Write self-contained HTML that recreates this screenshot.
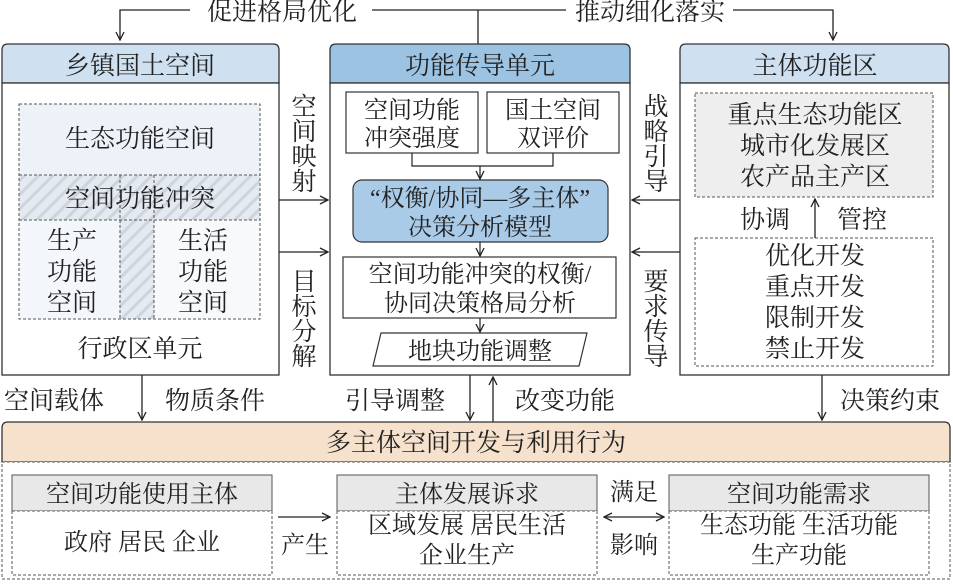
<!DOCTYPE html>
<html><head><meta charset="utf-8"><style>
html,body{margin:0;padding:0;background:#fff}
svg text{font-family:"Liberation Serif","Noto Serif CJK SC","Noto Sans CJK SC",serif;fill:#222}
</style></head><body>
<svg width="953" height="582" viewBox="0 0 953 582" xmlns="http://www.w3.org/2000/svg">
<defs>
<marker id="a" markerWidth="10" markerHeight="10" refX="9" refY="5" orient="auto" markerUnits="userSpaceOnUse"><path d="M1,1 L9,5 L1,9" fill="none" stroke="#222" stroke-width="1.3"/></marker>
<marker id="b" markerWidth="10" markerHeight="10" refX="1" refY="5" orient="auto" markerUnits="userSpaceOnUse"><path d="M9,1 L1,5 L9,9" fill="none" stroke="#222" stroke-width="1.3"/></marker>
<pattern id="h" width="10" height="10" patternUnits="userSpaceOnUse" patternTransform="rotate(45)"><rect width="10" height="10" fill="#e4eaf2"/><rect width="3" height="10" fill="#cfd4db"/></pattern>
</defs>
<g stroke="#222" stroke-width="1.3" fill="none">
<path d="M190,10 H120 V40" marker-end="url(#a)"/>
<path d="M372,10 H566"/><path d="M478,10 V44"/>
<path d="M733,10 H833 V40" marker-end="url(#a)"/>
</g>
<text x="282" y="20" font-size="25" text-anchor="middle">促进格局优化</text>
<text x="650" y="20" font-size="25" text-anchor="middle">推动细化落实</text>

<!-- left box -->
<path d="M2,83 V50 Q2,44 8,44 H273 Q279,44 279,50 V83 Z" fill="#cfe0f0" stroke="#333" stroke-width="1.3"/>
<rect x="2" y="83" width="277" height="292" fill="#fff" stroke="#333" stroke-width="1.3"/>
<text x="140" y="74" font-size="25" text-anchor="middle">乡镇国土空间</text>
<rect x="19" y="104" width="241" height="71" fill="#edf2f9"/>
<rect x="19" y="175" width="241" height="45" fill="url(#h)"/>
<rect x="19" y="220" width="101" height="99" fill="#f3f6fa"/>
<rect x="120" y="220" width="34" height="99" fill="url(#h)"/>
<rect x="154" y="220" width="106" height="99" fill="#f8f9fb"/>
<g stroke="#555" stroke-width="1" stroke-dasharray="3,2" fill="none">
<rect x="19" y="104" width="241" height="215"/>
<path d="M19,175 H260 M19,220 H260 M120,175 V319 M154,175 V319"/>
</g>
<text x="140" y="147" font-size="25" text-anchor="middle">生态功能空间</text>
<text x="140" y="207" font-size="25" text-anchor="middle">空间功能冲突</text>
<g font-size="25" text-anchor="middle"><text x="72" y="249">生产</text><text x="72" y="280">功能</text><text x="72" y="311">空间</text>
<text x="203" y="249">生活</text><text x="203" y="280">功能</text><text x="203" y="311">空间</text></g>
<text x="140" y="357" font-size="25" text-anchor="middle">行政区单元</text>

<g stroke="#222" stroke-width="1.3"><path d="M279,200 H328" marker-end="url(#a)"/><path d="M279,252 H328" marker-end="url(#a)"/>
<path d="M680,200 H632" marker-end="url(#a)"/><path d="M680,252 H632" marker-end="url(#a)"/></g>
<g font-size="25" text-anchor="middle"><text x="304" y="115">空</text><text x="304" y="140">间</text><text x="304" y="165">映</text><text x="304" y="190">射</text>
<text x="304" y="290">目</text><text x="304" y="315">标</text><text x="304" y="340">分</text><text x="304" y="365">解</text>
<text x="656" y="115">战</text><text x="656" y="140">略</text><text x="656" y="165">引</text><text x="656" y="190">导</text>
<text x="656" y="290">要</text><text x="656" y="315">求</text><text x="656" y="340">传</text><text x="656" y="365">导</text></g>

<!-- center box -->
<path d="M330,83 V50 Q330,44 336,44 H624 Q630,44 630,50 V83 Z" fill="#9dc3e2" stroke="#333" stroke-width="1.3"/>
<rect x="330" y="83" width="300" height="292" fill="#fff" stroke="#333" stroke-width="1.3"/>
<text x="480" y="74" font-size="25" text-anchor="middle">功能传导单元</text>
<g stroke="#333" stroke-width="1.2" fill="#fff">
<rect x="346" y="92" width="132" height="61"/><rect x="487" y="92" width="132" height="61"/>
<rect x="353" y="180" width="255" height="62" rx="9" fill="#a9cbe8"/>
<rect x="343" y="257" width="273" height="61"/>
<path d="M381,333 H587 L579,366 H373 Z"/></g>
<g stroke="#222" stroke-width="1.2" fill="none">
<path d="M412,153 V166 H553 V153"/><path d="M480,166 V179" marker-end="url(#a)"/>
<path d="M480,242 V256" marker-end="url(#a)"/><path d="M480,318 V332" marker-end="url(#a)"/></g>
<g font-size="24" text-anchor="middle">
<text x="412" y="118">空间功能</text><text x="412" y="146">冲突强度</text>
<text x="553" y="118">国土空间</text><text x="553" y="146">双评价</text>
<text x="480" y="206">“权衡/协同—多主体”</text><text x="480" y="235">决策分析模型</text>
<text x="480" y="282">空间功能冲突的权衡/</text><text x="480" y="311">协同决策格局分析</text>
<text x="480" y="359">地块功能调整</text></g>

<!-- right box -->
<path d="M680,83 V50 Q680,44 686,44 H943 Q949,44 949,50 V83 Z" fill="#cfe0f0" stroke="#333" stroke-width="1.3"/>
<rect x="680" y="83" width="269" height="292" fill="#fff" stroke="#333" stroke-width="1.3"/>
<text x="815" y="74" font-size="25" text-anchor="middle">主体功能区</text>
<rect x="695" y="93" width="238" height="104" fill="#eeeeee" stroke="#555" stroke-dasharray="3,2"/>
<rect x="695" y="238" width="238" height="128" fill="#fff" stroke="#555" stroke-dasharray="3,2"/>
<path d="M815,238 V199" stroke="#222" stroke-width="1.3" marker-end="url(#a)"/>
<g font-size="25" text-anchor="middle">
<text x="815" y="123">重点生态功能区</text><text x="815" y="154">城市化发展区</text><text x="815" y="185">农产品主产区</text>
<text x="765" y="228">协调</text><text x="862" y="228">管控</text>
<text x="815" y="264">优化开发</text><text x="815" y="295">重点开发</text><text x="815" y="326">限制开发</text><text x="815" y="357">禁止开发</text></g>

<g stroke="#222" stroke-width="1.3"><path d="M142,375 V420" marker-end="url(#a)"/><path d="M470,375 V420" marker-end="url(#a)"/>
<path d="M493,422 V377" marker-end="url(#a)"/><path d="M822,375 V420" marker-end="url(#a)"/></g>
<g font-size="25"><text x="4" y="409">空间载体</text><text x="165" y="409">物质条件</text><text x="345" y="409">引导调整</text>
<text x="515" y="409">改变功能</text><text x="840" y="409">决策约束</text></g>

<!-- bottom block -->
<path d="M2,462 V428 Q2,422 8,422 H944 Q950,422 950,428 V462 Z" fill="#f5e1cc" stroke="#333" stroke-width="1.3"/>
<rect x="2" y="462" width="948" height="117" fill="#fff" stroke="#555" stroke-dasharray="3,2"/>
<text x="476" y="451" font-size="25" text-anchor="middle">多主体空间开发与利用行为</text>
<g stroke="#555" stroke-width="1">
<rect x="12" y="475" width="260" height="36" fill="#e8e8e8"/><rect x="12" y="511" width="260" height="64" fill="#fff" stroke-dasharray="3,2"/>
<rect x="337" y="475" width="260" height="36" fill="#e8e8e8"/><rect x="337" y="511" width="260" height="64" fill="#fff" stroke-dasharray="3,2"/>
<rect x="669" y="475" width="260" height="36" fill="#e8e8e8"/><rect x="669" y="511" width="260" height="64" fill="#fff" stroke-dasharray="3,2"/></g>
<g stroke="#222" stroke-width="1.3"><path d="M278,517 H330" marker-end="url(#a)"/><path d="M604,517 H664" marker-start="url(#b)" marker-end="url(#a)"/></g>
<g font-size="24" text-anchor="middle">
<text x="142" y="502">空间功能使用主体</text><text x="467" y="502">主体发展诉求</text><text x="799" y="502">空间功能需求</text>
<text x="142" y="550">政府 居民 企业</text>
<text x="467" y="533">区域发展 居民生活</text><text x="467" y="563">企业生产</text>
<text x="799" y="533">生态功能 生活功能</text><text x="799" y="563">生产功能</text>
<text x="305" y="553">产生</text><text x="634" y="500">满足</text><text x="634" y="553">影响</text></g>
</svg>
</body></html>
